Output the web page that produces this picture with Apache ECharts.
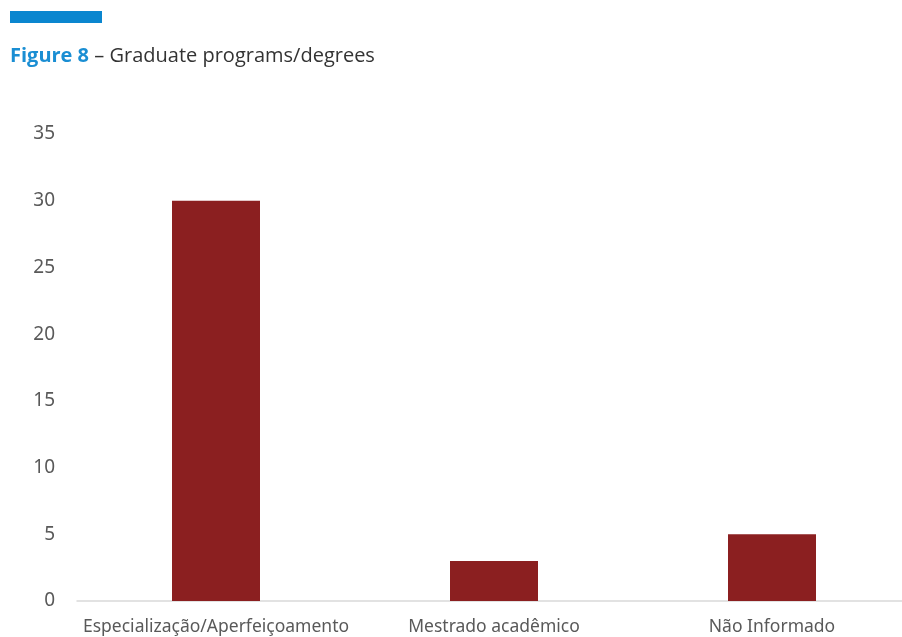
<!DOCTYPE html>
<html>
<head>
<meta charset="utf-8">
<script src="https://cdn.jsdelivr.net/npm/echarts@6/dist/echarts.min.js"></script>
<style>
  html, body { margin: 0; padding: 0; background: #fff; overflow: hidden; }
  #chart { width: 911px; height: 637px; }
</style>
</head>
<body>
<div id="chart"></div>
<script>
const categories = ['Especialização/Aperfeiçoamento', 'Mestrado acadêmico', 'Não Informado'];
const counts = [30, 3, 5];
const yTicks = { min: 0, max: 35, interval: 5 };

const chart = echarts.init(document.getElementById('chart'));

chart.setOption({
  animation: false,
  graphic: [
    { type: 'rect', left: 10, top: 11, shape: { width: 92, height: 12 }, style: { fill: '#0a86cf' } },
    {
      type: 'text', left: 10, top: 46,
      style: {
        text: '{b|Figure 8} – Graduate programs/degrees',
        rich: {
          b: { fontFamily: 'Open Sans', fontSize: 20, fontWeight: 'bold', fill: '#1a8ed3' }
        },
        fontFamily: 'Open Sans', fontSize: 20, fill: '#333'
      }
    }
  ],
  // plot runs a little past the window's right edge, as in the source
  grid: { left: 77, right: 0, top: 134, bottom: 36, containLabel: false },
  xAxis: {
    type: 'category',
    data: categories,
    axisLine: { lineStyle: { color: '#d9d9d9', width: 1.5 } },
    axisTick: { show: false },
    axisLabel: { color: '#595959', fontSize: 17.5, fontFamily: 'Noto Sans', margin: 17, interval: 0 }
  },
  yAxis: {
    type: 'value',
    min: yTicks.min, max: yTicks.max, interval: yTicks.interval,
    axisLine: { show: false },
    axisTick: { show: false },
    splitLine: { show: false },
    axisLabel: { color: '#595959', fontSize: 19, fontFamily: 'Noto Sans', margin: 22 }
  },
  series: [{
    type: 'bar',
    data: counts,
    barWidth: 88,
    itemStyle: { color: '#8b1f20' }
  }]
});
</script>
</body>
</html>
